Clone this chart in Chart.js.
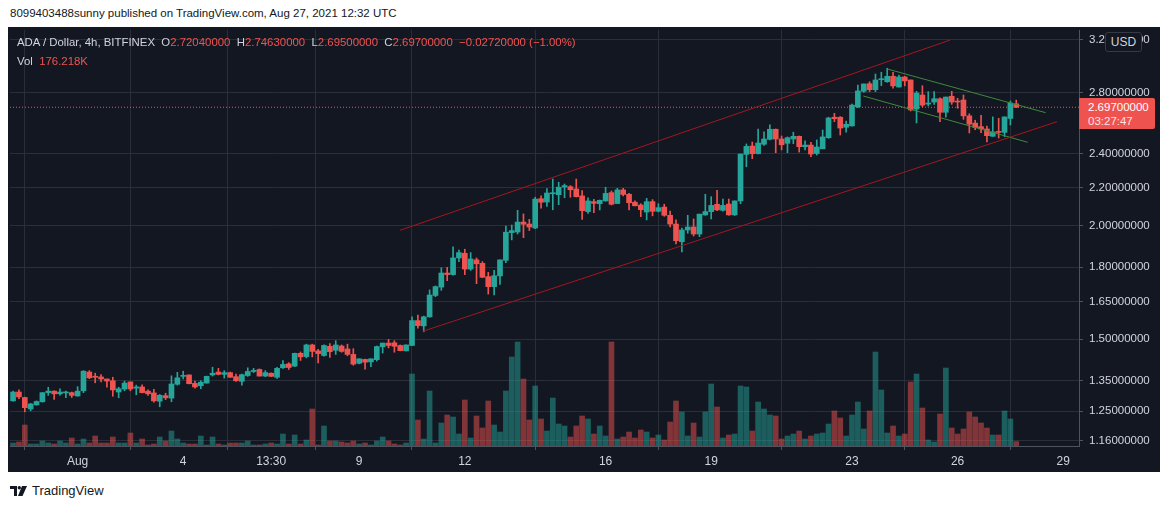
<!DOCTYPE html>
<html>
<head>
<meta charset="utf-8">
<script src="https://cdn.jsdelivr.net/npm/chart.js@4.4.0/dist/chart.umd.min.js"></script>
<style>
  html, body { margin: 0; padding: 0; background: #ffffff; }
  body { width: 1169px; height: 508px; position: relative; overflow: hidden; font-family: "Liberation Sans", Arial, sans-serif; }
  #published { position: absolute; left: 10px; top: 7px; font-size: 11.5px; color: #131722; white-space: nowrap; }
  #box { position: absolute; left: 8px; top: 27px; width: 1152px; height: 445px; background: #131722; }
  #chartWrap { position: absolute; left: 1px; top: 1px; width: 1150px; height: 444px; }
  #legend { position: absolute; left: 9px; top: 6px; font-size: 11.4px; color: #d1d4dc; white-space: nowrap; line-height: 19px; }
  #legend .v { color: #ef5350; }
  #usd { position: absolute; left: 1097px; top: 5px; width: 35px; height: 18px; border: 1px solid #363a45; border-radius: 3px; background: #131722; color: #d1d4dc; font-size: 12px; text-align: center; line-height: 18px; }
  #lastBox { position: absolute; left: 1071px; top: 71px; width: 76px; height: 31px; background: #ef5350; border-radius: 0 2px 2px 0; color: #ffffff; font-size: 11.5px; line-height: 14px; padding-left: 9px; box-sizing: border-box; padding-top: 2px; }
  #lastBox .t { color: #fde0e0; }
  #footer { position: absolute; left: 10px; top: 483px; font-size: 13px; color: #131722; display: flex; align-items: center; }
  #footer svg { margin-right: 5px; }
</style>
</head>
<body>
<div id="published">8099403488sunny published on TradingView.com, Aug 27, 2021 12:32 UTC</div>
<div id="box">
  <div id="chartWrap"><canvas id="adaChart" width="1150" height="444"></canvas></div>
  <div id="legend">
    <div>ADA / Dollar, 4h, BITFINEX&nbsp;&nbsp;O<span class="v">2.72040000</span>&nbsp;&nbsp;H<span class="v">2.74630000</span>&nbsp;&nbsp;L<span class="v">2.69500000</span>&nbsp;&nbsp;C<span class="v">2.69700000</span>&nbsp;&nbsp;<span class="v">−0.02720000 (−1.00%)</span></div>
    <div>Vol&nbsp;&nbsp;<span class="v">176.218K</span></div>
  </div>
  <div id="usd">USD</div>
  <div id="lastBox"><div>2.69700000</div><div class="t">03:27:47</div></div>
</div>
<div id="footer">
  <svg width="17" height="10" viewBox="0 0 17 10"><path d="M0 0h7v10H4V3H0z" fill="#131722"/><circle cx="9.3" cy="1.7" r="1.7" fill="#131722"/><path d="M12 0h5l-4.5 10H8z" fill="#131722"/></svg>
  <span>TradingView</span>
</div>

<script>
// 4h candles, first one Jul 30 04:00, x measured in days from Aug 1 00:00
const firstCandleDay = -11 / 6;
const candleStep = 1 / 6;

const opens = [
  1.283, 1.312, 1.294, 1.257, 1.270, 1.280, 1.310, 1.315, 1.306, 1.309,
  1.310, 1.299, 1.316, 1.380, 1.364, 1.363, 1.356, 1.350, 1.312, 1.322,
  1.346, 1.325, 1.329, 1.315, 1.309, 1.282, 1.300, 1.292, 1.338, 1.365,
  1.370, 1.341, 1.333, 1.342, 1.370, 1.380, 1.372, 1.378, 1.364, 1.348,
  1.368, 1.382, 1.389, 1.366, 1.376, 1.362, 1.395, 1.409, 1.401, 1.447,
  1.435, 1.478, 1.456, 1.439, 1.473, 1.458, 1.474, 1.463, 1.443, 1.411,
  1.425, 1.416, 1.424, 1.471, 1.485, 1.486, 1.476, 1.456, 1.476, 1.572,
  1.551, 1.587, 1.675, 1.711, 1.773, 1.766, 1.842, 1.864, 1.791, 1.833,
  1.817, 1.757, 1.713, 1.760, 1.831, 1.964, 1.967, 2.017, 2.007, 1.987,
  2.140, 2.122, 2.167, 2.162, 2.204, 2.206, 2.193, 2.155, 2.071, 2.124,
  2.113, 2.128, 2.173, 2.114, 2.188, 2.164, 2.121, 2.106, 2.069, 2.124,
  2.073, 2.095, 2.052, 2.007, 1.919, 1.977, 1.992, 1.957, 2.054, 2.071,
  2.110, 2.078, 2.111, 2.054, 2.128, 2.394, 2.445, 2.398, 2.456, 2.487,
  2.551, 2.489, 2.462, 2.489, 2.506, 2.441, 2.451, 2.399, 2.428, 2.497,
  2.630, 2.630, 2.564, 2.573, 2.701, 2.808, 2.863, 2.820, 2.892, 2.877,
  2.917, 2.839, 2.912, 2.890, 2.685, 2.782, 2.719, 2.733, 2.756, 2.663,
  2.773, 2.738, 2.747, 2.639, 2.591, 2.568, 2.553, 2.506, 2.537, 2.531,
  2.622, 2.7204
];
const highs = [
  1.315, 1.319, 1.295, 1.275, 1.283, 1.310, 1.328, 1.316, 1.323, 1.315,
  1.312, 1.330, 1.385, 1.385, 1.376, 1.371, 1.356, 1.362, 1.328, 1.349,
  1.346, 1.335, 1.336, 1.319, 1.321, 1.304, 1.308, 1.367, 1.379, 1.383,
  1.370, 1.349, 1.350, 1.366, 1.397, 1.393, 1.385, 1.380, 1.373, 1.373,
  1.395, 1.393, 1.391, 1.385, 1.377, 1.397, 1.421, 1.413, 1.448, 1.452,
  1.481, 1.481, 1.462, 1.478, 1.483, 1.494, 1.478, 1.481, 1.464, 1.427,
  1.426, 1.427, 1.474, 1.485, 1.499, 1.494, 1.478, 1.478, 1.587, 1.594,
  1.590, 1.699, 1.716, 1.797, 1.799, 1.894, 1.879, 1.883, 1.867, 1.842,
  1.825, 1.776, 1.785, 1.833, 1.997, 2.002, 2.078, 2.059, 2.031, 2.148,
  2.155, 2.195, 2.249, 2.231, 2.221, 2.212, 2.249, 2.184, 2.145, 2.137,
  2.133, 2.203, 2.182, 2.197, 2.197, 2.169, 2.129, 2.113, 2.142, 2.135,
  2.113, 2.110, 2.074, 2.028, 1.986, 2.052, 2.033, 2.058, 2.164, 2.151,
  2.186, 2.138, 2.138, 2.128, 2.396, 2.458, 2.470, 2.553, 2.535, 2.579,
  2.553, 2.508, 2.502, 2.532, 2.508, 2.478, 2.468, 2.483, 2.546, 2.630,
  2.656, 2.634, 2.605, 2.719, 2.853, 2.861, 2.877, 2.934, 2.947, 2.977,
  2.947, 2.926, 2.917, 2.890, 2.808, 2.848, 2.806, 2.806, 2.763, 2.768,
  2.808, 2.759, 2.782, 2.653, 2.610, 2.643, 2.572, 2.632, 2.623, 2.632,
  2.740, 2.7463
];
const lows = [
  1.282, 1.290, 1.248, 1.251, 1.269, 1.279, 1.301, 1.288, 1.302, 1.293,
  1.294, 1.298, 1.310, 1.357, 1.343, 1.346, 1.328, 1.298, 1.293, 1.316,
  1.316, 1.303, 1.309, 1.301, 1.279, 1.264, 1.287, 1.280, 1.335, 1.356,
  1.339, 1.325, 1.323, 1.342, 1.366, 1.370, 1.359, 1.361, 1.348, 1.335,
  1.365, 1.378, 1.366, 1.364, 1.364, 1.358, 1.393, 1.389, 1.399, 1.421,
  1.430, 1.434, 1.412, 1.437, 1.432, 1.443, 1.451, 1.438, 1.404, 1.409,
  1.390, 1.399, 1.419, 1.448, 1.467, 1.451, 1.456, 1.456, 1.475, 1.542,
  1.528, 1.585, 1.670, 1.697, 1.739, 1.763, 1.825, 1.766, 1.785, 1.726,
  1.752, 1.681, 1.678, 1.723, 1.820, 1.928, 1.957, 1.939, 1.974, 1.984,
  2.089, 2.099, 2.081, 2.108, 2.145, 2.148, 2.149, 2.031, 2.062, 2.065,
  2.080, 2.126, 2.106, 2.113, 2.155, 2.080, 2.101, 2.045, 2.028, 2.049,
  2.069, 2.047, 1.992, 1.908, 1.870, 1.961, 1.947, 1.944, 2.052, 2.033,
  2.076, 2.074, 2.052, 2.051, 2.113, 2.320, 2.368, 2.396, 2.449, 2.483,
  2.404, 2.421, 2.404, 2.460, 2.408, 2.421, 2.380, 2.390, 2.428, 2.493,
  2.601, 2.514, 2.532, 2.571, 2.694, 2.801, 2.806, 2.806, 2.849, 2.873,
  2.830, 2.837, 2.847, 2.672, 2.592, 2.701, 2.706, 2.717, 2.601, 2.630,
  2.717, 2.690, 2.616, 2.527, 2.548, 2.529, 2.470, 2.506, 2.495, 2.504,
  2.579, 2.695
];
const closes = [
  1.312, 1.296, 1.261, 1.273, 1.281, 1.310, 1.315, 1.306, 1.312, 1.311,
  1.301, 1.315, 1.383, 1.360, 1.362, 1.356, 1.349, 1.319, 1.323, 1.342,
  1.322, 1.329, 1.310, 1.306, 1.283, 1.301, 1.293, 1.339, 1.360, 1.367,
  1.340, 1.329, 1.345, 1.365, 1.376, 1.372, 1.378, 1.362, 1.350, 1.371,
  1.382, 1.386, 1.366, 1.378, 1.365, 1.393, 1.407, 1.396, 1.447, 1.434,
  1.478, 1.454, 1.446, 1.476, 1.453, 1.478, 1.454, 1.443, 1.408, 1.427,
  1.415, 1.427, 1.472, 1.485, 1.476, 1.473, 1.457, 1.478, 1.572, 1.552,
  1.587, 1.677, 1.713, 1.773, 1.766, 1.842, 1.867, 1.791, 1.837, 1.815,
  1.754, 1.713, 1.761, 1.833, 1.966, 1.974, 2.017, 2.006, 1.992, 2.138,
  2.121, 2.171, 2.171, 2.203, 2.212, 2.189, 2.151, 2.076, 2.128, 2.115,
  2.131, 2.169, 2.110, 2.188, 2.163, 2.118, 2.102, 2.081, 2.124, 2.073,
  2.092, 2.052, 2.007, 1.924, 1.977, 1.992, 1.957, 2.058, 2.071, 2.104,
  2.080, 2.104, 2.054, 2.128, 2.396, 2.443, 2.398, 2.464, 2.489, 2.551,
  2.489, 2.453, 2.497, 2.506, 2.441, 2.451, 2.396, 2.439, 2.502, 2.625,
  2.620, 2.559, 2.583, 2.712, 2.811, 2.861, 2.820, 2.890, 2.899, 2.917,
  2.847, 2.912, 2.883, 2.679, 2.796, 2.712, 2.726, 2.756, 2.663, 2.768,
  2.733, 2.733, 2.639, 2.584, 2.562, 2.553, 2.510, 2.534, 2.531, 2.632,
  2.726, 2.697
];
// volume in thousands
const volumes = [
  120, 160, 840, 80, 80, 200, 120, 80, 200, 120,
  320, 80, 280, 120, 400, 120, 120, 360, 120, 120,
  520, 120, 280, 40, 80, 360, 200, 600, 280, 120,
  80, 80, 400, 40, 360, 80, 40, 120, 120, 120,
  200, 40, 40, 80, 120, 80, 480, 80, 440, 80,
  240, 1480, 40, 800, 200, 200, 160, 120, 200, 80,
  120, 40, 200, 360, 200, 80, 40, 120, 2880, 1040,
  280, 2200, 120, 920, 1240, 1160, 480, 1840, 320, 1200,
  720, 1800, 840, 560, 2200, 3560, 4160, 2680, 1040, 2400,
  1080, 600, 1920, 880, 800, 360, 800, 1200, 1080, 480,
  800, 400, 4160, 280, 360, 560, 320, 640, 560, 320,
  440, 240, 960, 1800, 1360, 400, 920, 360, 1360, 2480,
  1560, 320, 440, 480, 2400, 2360, 600, 1760, 1480, 1240,
  1200, 280, 400, 480, 600, 280, 400, 480, 520, 880,
  1400, 1120, 400, 1240, 1760, 680, 1400, 3760, 2240, 520,
  800, 400, 480, 2560, 2880, 1520, 240, 160, 1280, 3120,
  720, 480, 680, 1360, 1160, 920, 720, 440, 440, 1400,
  1080, 176.218
];

// time axis labels (days from Aug 1)
const tickDays = [0, 3, 5.5, 8, 11, 15, 18, 22, 25, 28];
const tickLabels = ['Aug', '4', '13:30', '9', '12', '16', '19', '23', '26', '29'];
const priceTicks = [1.16, 1.25, 1.35, 1.5, 1.65, 1.8, 2.0, 2.2, 2.4, 2.8, 3.2];

// drawn trend lines: [day, price]
const channelUpper = [[9.159, 1.9755], [24.784, 3.1968]];
const channelLower = [[9.812, 1.5302], [27.824, 2.6004]];
const flagUpper = [[23.003, 2.9713], [27.503, 2.6602]];
const flagLower = [[22.321, 2.7750], [26.991, 2.4683]];

const UP = '#26a69a';
const DOWN = '#ef5350';
const X_MIN = -1.9205, X_MAX = 28.449;

document.addEventListener('DOMContentLoaded', function() {
  const ctx = document.getElementById('adaChart').getContext('2d');

  const days = opens.map((o, i) => firstCandleDay + i * candleStep);
  const isUp = opens.map((o, i) => closes[i] >= o);
  const candleColors = isUp.map(u => u ? UP : DOWN);
  const volColors = isUp.map(u => u ? 'rgba(38,166,154,0.5)' : 'rgba(239,83,80,0.5)');

  const toPts = arr => arr.map(p => ({ x: p[0], y: p[1] }));
  const trendLine = (pts, color) => ({
    type: 'line',
    data: toPts(pts),
    borderColor: color,
    borderWidth: 1,
    pointRadius: 0,
    yAxisID: 'y',
    order: 0
  });

  const lastClose = closes[closes.length - 1];

  const config = {
    type: 'bar',
    data: {
      datasets: [
        {
          label: 'Volume',
          data: days.map((d, i) => ({ x: d, y: volumes[i] })),
          backgroundColor: volColors,
          barThickness: 5,
          grouped: false,
          yAxisID: 'yv',
          order: 4
        },
        {
          label: 'Wicks',
          data: days.map((d, i) => ({ x: d, y: [lows[i], highs[i]] })),
          backgroundColor: candleColors,
          barThickness: 1,
          grouped: false,
          yAxisID: 'y',
          order: 3
        },
        {
          label: 'Bodies',
          data: days.map((d, i) => ({ x: d, y: [opens[i], closes[i]] })),
          backgroundColor: candleColors,
          barThickness: 5,
          minBarLength: 1,
          grouped: false,
          yAxisID: 'y',
          order: 2
        },
        trendLine(channelUpper, '#a3181f'),
        trendLine(channelLower, '#a3181f'),
        trendLine(flagUpper, '#3f8a3a'),
        trendLine(flagLower, '#3f8a3a'),
        {
          type: 'line',
          data: [{ x: X_MIN, y: lastClose }, { x: X_MAX, y: lastClose }],
          borderColor: DOWN,
          borderWidth: 1,
          borderDash: [1, 2],
          pointRadius: 0,
          yAxisID: 'y',
          order: 1
        }
      ]
    },
    options: {
      responsive: false,
      animation: false,
      layout: { padding: { left: 1, top: 2, right: 0, bottom: 0 } },
      scales: {
        x: {
          type: 'linear',
          min: X_MIN,
          max: X_MAX,
          offset: false,
          afterBuildTicks: function(scale) {
            scale.ticks = tickDays.map(v => ({ value: v }));
          },
          afterFit: function(scale) {
            scale.height = 26;
            scale.paddingLeft = 0;
            scale.paddingRight = 0;
          },
          ticks: {
            autoSkip: false,
            maxRotation: 0,
            color: '#d1d4dc',
            font: { family: 'Liberation Sans', size: 12 },
            padding: 4,
            callback: function(value, index) { return tickLabels[index]; }
          },
          grid: { color: '#2a2e39', tickColor: '#50535e', tickLength: 4 },
          border: { display: true, color: '#50535e' }
        },
        y: {
          type: 'logarithmic',
          position: 'right',
          min: 1.1445,
          max: 3.2795,
          afterBuildTicks: function(scale) {
            scale.ticks = priceTicks.map(v => ({ value: v }));
          },
          afterFit: function(scale) {
            scale.width = 80;
            scale.paddingTop = 0;
            scale.paddingBottom = 0;
          },
          ticks: {
            autoSkip: false,
            color: '#d1d4dc',
            font: { family: 'Liberation Sans', size: 11.5 },
            padding: 6,
            callback: function(value) { return Number(value).toFixed(8); }
          },
          grid: { color: '#2a2e39', tickColor: '#50535e', tickLength: 4 },
          border: { display: true, color: '#50535e' }
        },
        yv: {
          type: 'linear',
          display: false,
          min: 0,
          max: 16640
        }
      },
      plugins: {
        legend: { display: false },
        tooltip: { enabled: false }
      }
    }
  };

  new Chart(ctx, config);
});
</script>
</body>
</html>
